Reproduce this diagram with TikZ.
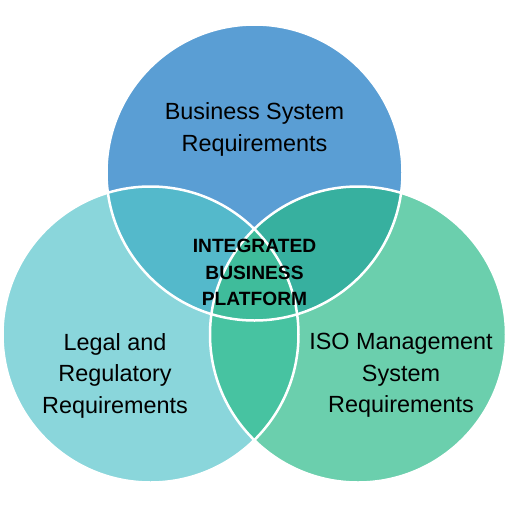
\documentclass[tikz,border=0pt]{standalone}
\usepackage{fontspec}
\setmainfont{Liberation Sans}
\definecolor{ctop}{RGB}{90,158,212}
\definecolor{cleft}{RGB}{138,214,219}
\definecolor{cright}{RGB}{107,207,173}
\definecolor{ctl}{RGB}{84,185,203}
\definecolor{ctr}{RGB}{55,176,159}
\definecolor{clr}{RGB}{71,195,161}
\definecolor{cmid}{RGB}{63,188,155}
\begin{document}
\begin{tikzpicture}[x=1pt,y=-1pt,
  ring/.style={draw=white,line width=2.5pt},
  lab/.style={align=center,font=\fontsize{23.4}{31.5}\selectfont,text=black,inner sep=0pt},
  core/.style={align=center,font=\bfseries\fontsize{19.2}{26.5}\selectfont,text=black,inner sep=0pt}]
\useasboundingbox (0,0) rectangle (509,509);
\fill[white] (0,0) rectangle (509,509);
\coordinate (T) at (254.5,172.5);
\coordinate (L) at (150.5,334.5);
\coordinate (R) at (358,334.5);
\def\rr{148}
\fill[ctop] (T) circle[radius=\rr];
\fill[cleft] (L) circle[radius=\rr];
\fill[cright] (R) circle[radius=\rr];
\begin{scope}\clip (T) circle[radius=\rr]; \fill[ctl] (L) circle[radius=\rr];\end{scope}
\begin{scope}\clip (T) circle[radius=\rr]; \fill[ctr] (R) circle[radius=\rr];\end{scope}
\begin{scope}\clip (L) circle[radius=\rr]; \fill[clr] (R) circle[radius=\rr];\end{scope}
\begin{scope}\clip (L) circle[radius=\rr]; \clip (R) circle[radius=\rr]; \fill[cmid] (T) circle[radius=\rr];\end{scope}
\draw[ring] (T) circle[radius=\rr];
\draw[ring] (L) circle[radius=\rr];
\draw[ring] (R) circle[radius=\rr];
\node[lab] (bsr) at (254.5,129.5) {Business System\\Requirements};
\node[lab] (lrr) at (115,375.5) {Legal and\\Regulatory\\Requirements};
\node[lab] (iso) at (401,375.5) {ISO Management\\System\\Requirements};
\node[core] (ibp) at (254.5,272.5) {INTEGRATED\\BUSINESS\\PLATFORM};
\end{tikzpicture}
\end{document}
